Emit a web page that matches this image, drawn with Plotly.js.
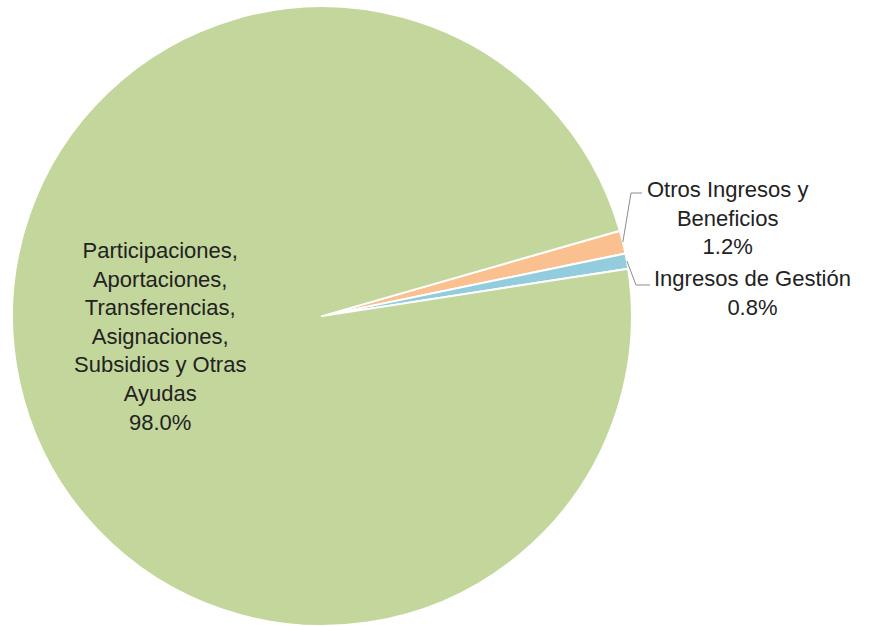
<!DOCTYPE html>
<html>
<head>
<meta charset="utf-8">
<script src="https://cdn.plot.ly/plotly-3.0.1.min.js"></script>
<style>html,body{margin:0;padding:0;background:#fff;}#chart{width:870px;height:626px;}</style>
</head>
<body>
<div id="chart"></div>
<script>
const labels = [
  "Otros Ingresos y<br>Beneficios",
  "Ingresos de Gestión",
  "Participaciones,<br>Aportaciones,<br>Transferencias,<br>Asignaciones,<br>Subsidios y Otras<br>Ayudas"
];
const values = [1.2, 0.8, 98.0];
const colors = ["#FAC090", "#93CDDD", "#C3D69B"];

// label placement (pixels) — layout only
const W = 870, H = 626;
const labelPos = [
  { x: 727, y: 218 },
  { x: 752, y: 293 },
  { x: 160, y: 336 }
];
// leader elbows for the outside labels (pixels)
const leaderElbows = [
  [[631, 193], [642, 193]],
  [[636, 285], [650, 285]],
  null
];

const domX = [0.0138, 0.7264], domY = [0.0, 0.99];
const rotation = 74;

const total = values.reduce((a, b) => a + b, 0);
const pctText = values.map(v => (v / total * 100).toFixed(1) + "%");

const trace = {
  type: "pie",
  labels: labels,
  values: values,
  sort: false,
  direction: "clockwise",
  rotation: rotation,
  marker: { colors: colors, line: { color: "#ffffff", width: 2 } },
  textinfo: "none",
  hoverinfo: "label+percent",
  showlegend: false,
  domain: { x: domX, y: domY },
  automargin: false
};

const font = { family: "Liberation Sans, Arial, sans-serif", size: 22, color: "#222222" };

const annotations = labels.map((lab, i) => ({
  xref: "paper", yref: "paper",
  x: labelPos[i].x / W, y: 1 - labelPos[i].y / H,
  xanchor: "center", yanchor: "middle",
  text: lab + "<br>" + pctText[i],
  showarrow: false,
  align: "center",
  font: font
}));

// pie geometry to start leader lines at slice edges
const pw = (domX[1] - domX[0]) * W, ph = (domY[1] - domY[0]) * H;
const r = Math.min(pw, ph) / 2;
const cx = (domX[0] + domX[1]) / 2 * W;
const cy = H - (domY[0] + domY[1]) / 2 * H;
let acc = 0;
const shapes = [];
values.forEach((v, i) => {
  const mid = rotation + (acc + v / 2) / total * 360;
  acc += v;
  if (!leaderElbows[i]) return;
  const a = mid * Math.PI / 180;
  const sx = cx + r * Math.sin(a), sy = cy - r * Math.cos(a);
  const pts = [[sx, sy]].concat(leaderElbows[i]);
  const path = pts.map((p, k) => (k ? "L" : "M") + (p[0] / W).toFixed(5) + "," + (1 - p[1] / H).toFixed(5)).join(" ");
  shapes.push({ type: "path", xref: "paper", yref: "paper", path: path, line: { color: "#8c8c8c", width: 1 } });
});

const layout = {
  width: W,
  height: H,
  margin: { l: 0, r: 0, t: 0, b: 0 },
  paper_bgcolor: "#ffffff",
  plot_bgcolor: "#ffffff",
  showlegend: false,
  annotations: annotations,
  shapes: shapes
};

Plotly.newPlot("chart", [trace], layout, { displayModeBar: false, staticPlot: true });
</script>
</body>
</html>
